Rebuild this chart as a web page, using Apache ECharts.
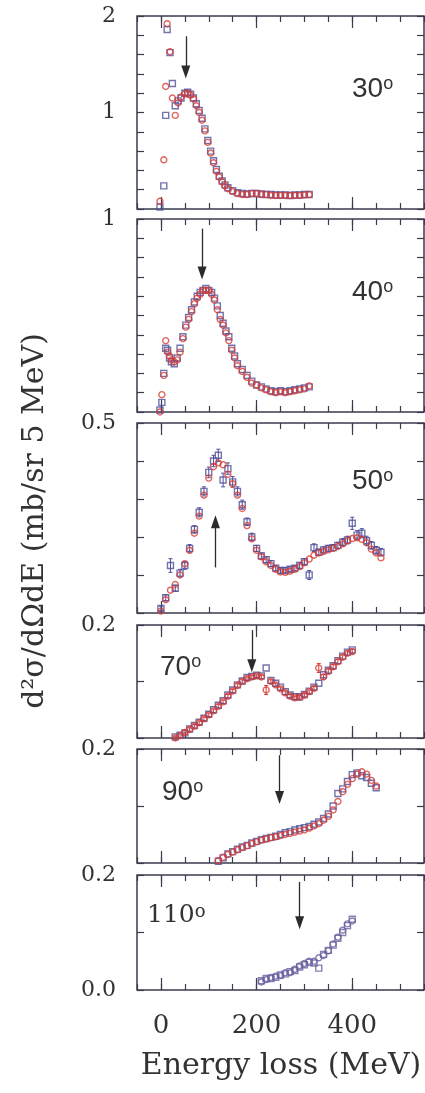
<!doctype html>
<html>
<head>
<meta charset="utf-8">
<title>d2sigma/dOmega dE vs energy loss</title>
<script src="https://cdn.jsdelivr.net/npm/echarts@6.0.0/dist/echarts.min.js"></script>
<style>
html, body { margin: 0; padding: 0; background: #fff; }
#chart { width: 425px; height: 1093px; }
</style>
</head>
<body>
<div id="chart"></div>
<script>
// scattering angles, one panel each
var angles = ['30', '40', '50', '70', '90', '110'];

// tick labels
var xLabelVals = [0, 200, 400];
var yLabelVals = [[1, 2], [1], [0.5], [0.2], [0.2], [0, 0.2]];

// arrows (energy, start, tip)
var arrowE = [52, 86, 114, 190, 248, 290];
var arrowFrom = [1.79, 0.95, 0.12, 0.191, 0.189, 0.188];
var arrowTo = [1.42, 0.72, 0.24, 0.128, 0.115, 0.117];

// 30 deg
var e30 = [-2, 6, 10, 13, 19, 24, 30, 36, 42, 50, 56, 62, 68, 74, 80, 86, 92, 98, 104, 110, 116, 122, 128, 134, 140,
  150, 160, 170, 180, 190, 200, 210, 220, 230, 240, 250, 260, 270, 280, 290, 300, 310];
var red30 = [0.08, 0.51, 1.27, 1.92, 1.63, 1.15, 0.97, 1.10, 1.16, 1.19, 1.20, 1.18, 1.14, 1.07, 1.00, 0.92, 0.81,
  0.69, 0.58, 0.48, 0.39, 0.33, 0.28, 0.24, 0.21,
  0.18, 0.16, 0.15, 0.15, 0.16, 0.16, 0.15, 0.15, 0.14, 0.14, 0.14, 0.14, 0.14, 0.14, 0.14, 0.145, 0.15];
var blue30 = [0.02, 0.24, 0.97, 1.86, 1.62, 1.30, 1.07, 1.12, 1.15, 1.20, 1.21, 1.19, 1.15, 1.09, 1.02, 0.94, 0.83,
  0.71, 0.60, 0.50, 0.41, 0.34, 0.29, 0.25, 0.22,
  0.19, 0.17, 0.16, 0.155, 0.16, 0.16, 0.155, 0.15, 0.15, 0.145, 0.145, 0.145, 0.14, 0.145, 0.145, 0.15, 0.15];

// 40 deg
var e40 = [-2, 2, 6, 10, 14, 18, 22, 28, 34, 40, 46, 52, 58, 64, 70, 76, 82, 88, 94, 100, 106, 112, 118, 124, 130,
  136, 142, 148, 154, 160, 170, 180, 190, 200, 210, 220, 230, 240, 250, 260, 270, 280, 290, 300, 310];
var red40 = [0.00, 0.09, 0.19, 0.37, 0.31, 0.29, 0.27, 0.26, 0.27, 0.31, 0.38, 0.44, 0.48, 0.52, 0.56, 0.59, 0.61,
  0.63, 0.63, 0.63, 0.61, 0.58, 0.53, 0.48, 0.45, 0.41, 0.37, 0.32, 0.28, 0.24,
  0.21, 0.18, 0.15, 0.14, 0.125, 0.115, 0.105, 0.10, 0.105, 0.10, 0.105, 0.11, 0.115, 0.12, 0.135];
var blue40 = [0.01, 0.05, 0.20, 0.33, 0.32, 0.28, 0.26, 0.25, 0.28, 0.33, 0.39, 0.45, 0.49, 0.53, 0.57, 0.60, 0.62,
  0.63, 0.64, 0.63, 0.62, 0.59, 0.55, 0.50, 0.46, 0.42, 0.39, 0.33, 0.29, 0.25,
  0.22, 0.19, 0.16, 0.14, 0.13, 0.12, 0.11, 0.105, 0.11, 0.105, 0.11, 0.115, 0.12, 0.125, 0.13];

// 50 deg
var e50 = [0, 10, 20, 30, 40, 50, 60, 70, 80, 90, 100, 110, 120, 130, 140, 150, 160, 170, 180, 190,
  200, 210, 220, 230, 240, 250, 260, 270, 280, 290, 300, 310, 320, 330, 340, 350, 360, 370, 380, 390,
  400, 410, 420, 430, 440, 450, 460];
var red50 = [0.005, 0.035, 0.06, 0.075, 0.10, 0.13, 0.165, 0.21, 0.255, 0.31,
  0.355, 0.385, 0.395, 0.39, 0.365, 0.34, 0.31, 0.275, 0.23, 0.195,
  0.165, 0.148, 0.135, 0.125, 0.115, 0.108, 0.107, 0.11, 0.115, 0.122,
  0.132, 0.142, 0.152, 0.158, 0.162, 0.166, 0.17, 0.175, 0.182, 0.19,
  0.196, 0.198, 0.194, 0.185, 0.168, 0.158, 0.145];
var blue50 = [0.012, 0.04, 0.125, 0.065, 0.105, 0.125, 0.17, 0.22, 0.265, 0.32,
  0.37, 0.40, 0.415, 0.35, 0.38, 0.345, 0.32, 0.285, 0.24, 0.20,
  0.17, 0.15, 0.14, 0.13, 0.118, 0.112, 0.112, 0.115, 0.118, 0.125,
  0.135, 0.10, 0.172, 0.16, 0.166, 0.17, 0.172, 0.178, 0.186, 0.192,
  0.236, 0.205, 0.21, 0.19, 0.178, 0.165, 0.16];
var err50 = [0.006, 0.008, 0.018, 0.008, 0.01, 0.01, 0.01, 0.01, 0.012, 0.012,
  0.014, 0.015, 0.016, 0.018, 0.015, 0.014, 0.012, 0.012, 0.01, 0.01,
  0.008, 0.008, 0.008, 0.008, 0.007, 0.007, 0.007, 0.007, 0.007, 0.008,
  0.008, 0.012, 0.01, 0.008, 0.008, 0.008, 0.008, 0.008, 0.01, 0.01,
  0.016, 0.012, 0.012, 0.012, 0.01, 0.01, 0.01];

// 70 deg
var e70 = [30, 40, 50, 60, 70, 80, 90, 100, 110, 120, 130, 140, 150, 160, 170, 180, 190, 200, 210, 220,
  230, 240, 250, 260, 270, 280, 290, 300, 310, 320, 330, 340, 350, 360, 370, 380, 390, 400];
var red70 = [0.0, 0.004, 0.01, 0.015, 0.021, 0.027, 0.034, 0.041, 0.048, 0.056,
  0.064, 0.074, 0.083, 0.093, 0.1, 0.105, 0.108, 0.11, 0.108, 0.085,
  0.10, 0.094, 0.087, 0.08, 0.074, 0.071, 0.072, 0.076, 0.082, 0.088,
  0.124, 0.108, 0.118, 0.126, 0.135, 0.143, 0.15, 0.153];
var blue70 = [0.002, 0.005, 0.009, 0.016, 0.022, 0.028, 0.035, 0.042, 0.05, 0.058,
  0.066, 0.076, 0.085, 0.094, 0.101, 0.107, 0.109, 0.111, 0.11, 0.124,
  0.102, 0.097, 0.09, 0.082, 0.076, 0.073, 0.073, 0.077, 0.083, 0.09,
  0.097, 0.112, 0.12, 0.128, 0.137, 0.145, 0.152, 0.156];
var err70 = [0.003, 0.003, 0.003, 0.003, 0.003, 0.003, 0.003, 0.003, 0.003, 0.003,
  0.003, 0.003, 0.003, 0.003, 0.003, 0.003, 0.003, 0.003, 0.003, 0.008,
  0.003, 0.003, 0.003, 0.003, 0.003, 0.003, 0.003, 0.003, 0.003, 0.003,
  0.008, 0.004, 0.004, 0.004, 0.004, 0.004, 0.004, 0.004];

// 90 deg
var e90 = [120, 130, 140, 150, 160, 170, 180, 190, 200, 210, 220, 230, 240, 250, 260, 270, 280, 290, 300, 310,
  320, 330, 340, 350, 360, 370, 380, 390, 400, 410, 420, 430, 440, 450];
var red90 = [0.004, 0.01, 0.015, 0.019, 0.023, 0.027, 0.03, 0.034, 0.037, 0.04,
  0.042, 0.044, 0.046, 0.048, 0.05, 0.052, 0.054, 0.056, 0.058, 0.061,
  0.065, 0.069, 0.075, 0.082, 0.093, 0.108, 0.125, 0.138, 0.148, 0.156,
  0.16, 0.156, 0.145, 0.135];
var blue90 = [0.003, 0.009, 0.016, 0.02, 0.024, 0.028, 0.031, 0.035, 0.038, 0.041,
  0.043, 0.045, 0.047, 0.05, 0.053, 0.055, 0.058, 0.06, 0.062, 0.064,
  0.068, 0.072, 0.078, 0.086, 0.1, 0.122, 0.13, 0.143, 0.155, 0.158,
  0.153, 0.15, 0.14, 0.132];

// 110 deg
var e110 = [210, 220, 230, 240, 250, 260, 270, 280, 290, 300, 310, 320, 330, 340, 350, 360, 370, 380, 390, 400];
var ci110 = [0.014, 0.018, 0.022, 0.024, 0.025, 0.03, 0.03, 0.036, 0.042, 0.046,
  0.05, 0.05, 0.056, 0.06, 0.068, 0.08, 0.092, 0.104, 0.115, 0.12];
var sq110 = [0.016, 0.02, 0.02, 0.022, 0.026, 0.028, 0.032, 0.034, 0.04, 0.044,
  0.048, 0.047, 0.038, 0.062, 0.069, 0.078, 0.09, 0.1, 0.112, 0.123];

var RED = '#d83c34', BLUE = '#4f5099', PURPLE = '#6b5f9f', INK = '#3a3b4c', TXT = '#333';

var panels = [
  {top: 16, height: 193, max: 2, step: 0.2, e: e30, red: red30, blue: blue30, redC: RED, blueC: BLUE},
  {top: 219, height: 193, max: 1, step: 0.1, e: e40, red: red40, blue: blue40, redC: RED, blueC: BLUE},
  {top: 423, height: 190, max: 0.5, step: 0.1, e: e50, red: red50, blue: blue50, redC: RED, blueC: BLUE, errBlue: err50},
  {top: 625, height: 113, max: 0.2, step: 0.1, e: e70, red: red70, blue: blue70, redC: RED, blueC: BLUE, errRed: err70},
  {top: 749, height: 114, max: 0.2, step: 0.1, e: e90, red: red90, blue: blue90, redC: RED, blueC: BLUE},
  {top: 875, height: 115, max: 0.2, step: 0.1, e: e110, red: ci110, blue: sq110, redC: PURPLE, blueC: PURPLE}
];

// where the angle labels sit
var labelPos = [[352, 75], [352, 278], [352, 467], [160, 653], [162, 778], [147, 903]];

function errBar(color) {
  return function (params, api) {
    var x = api.value(0), y = api.value(1), d = api.value(2);
    var a = api.coord([x, y + d]), b = api.coord([x, y - d]);
    var st = {stroke: color, lineWidth: 1};
    return {type: 'group', children: [
      {type: 'line', shape: {x1: a[0], y1: a[1], x2: b[0], y2: b[1]}, style: st},
      {type: 'line', shape: {x1: a[0] - 2, y1: a[1], x2: a[0] + 2, y2: a[1]}, style: st},
      {type: 'line', shape: {x1: b[0] - 2, y1: b[1], x2: b[0] + 2, y2: b[1]}, style: st}
    ]};
  };
}

var grid = [], xAxis = [], yAxis = [], series = [], title = [];

panels.forEach(function (p, i) {
  var last = i === panels.length - 1;
  grid.push({left: 137, top: p.top, width: 287, height: p.height, show: true,
    borderColor: INK, borderWidth: 1.5, backgroundColor: 'transparent'});

  ['bottom', 'top'].forEach(function (pos) {
    // long ticks at labelled energies
    xAxis.push({gridIndex: i, type: 'value', position: pos, min: -50, max: 550,
      axisLine: {show: false, onZero: false}, splitLine: {show: false},
      axisTick: {inside: true, length: 12, customValues: xLabelVals, lineStyle: {color: INK, width: 1.2}},
      axisLabel: {show: last && pos === 'bottom', customValues: xLabelVals, margin: 23,
        fontFamily: 'DejaVu Serif', fontSize: 26, color: TXT}});
    // short ticks every 50 MeV
    xAxis.push({gridIndex: i, type: 'value', position: pos, min: -50, max: 550, interval: 50,
      axisLine: {show: false, onZero: false}, splitLine: {show: false},
      axisTick: {inside: true, length: 6, lineStyle: {color: INK, width: 1.2}},
      axisLabel: {show: false}});
  });

  ['left', 'right'].forEach(function (pos) {
    yAxis.push({gridIndex: i, type: 'value', position: pos, min: 0, max: p.max, interval: p.step,
      axisLine: {show: false, onZero: false}, splitLine: {show: false},
      axisTick: {inside: true, length: 7, lineStyle: {color: INK, width: 1.2}},
      axisLabel: {show: pos === 'left', customValues: yLabelVals[i], margin: 21,
        fontFamily: 'DejaVu Serif', fontSize: 22, color: TXT,
        formatter: function (v) { return i < 2 ? String(v) : v.toFixed(1); }}});
  });

  var xi = 4 * i, yi = 2 * i;

  if (p.errBlue) {
    series.push({type: 'custom', xAxisIndex: xi, yAxisIndex: yi, silent: true, animation: false, z: 1,
      data: p.e.map(function (x, k) { return [x, p.blue[k], p.errBlue[k]]; }),
      renderItem: errBar(p.blueC)});
  }
  if (p.errRed) {
    series.push({type: 'custom', xAxisIndex: xi, yAxisIndex: yi, silent: true, animation: false, z: 1,
      data: p.e.map(function (x, k) { return [x, p.red[k], p.errRed[k]]; }),
      renderItem: errBar(p.redC)});
  }

  series.push({type: 'scatter', xAxisIndex: xi, yAxisIndex: yi, symbol: 'rect', symbolSize: 6,
    silent: true, animation: false, z: 2,
    itemStyle: {color: 'rgba(255,255,255,0)', borderColor: p.blueC, borderWidth: 1.4},
    data: p.e.map(function (x, k) { return [x, p.blue[k]]; })});

  series.push({type: 'scatter', xAxisIndex: xi, yAxisIndex: yi, symbol: 'circle', symbolSize: 6,
    silent: true, animation: false, z: 3,
    itemStyle: {color: 'rgba(255,255,255,0)', borderColor: p.redC, borderWidth: 1.4},
    data: p.e.map(function (x, k) { return [x, p.red[k]]; }),
    markLine: {silent: true, animation: false, symbol: ['none', 'triangle'], symbolSize: [9, 13],
      label: {show: false}, lineStyle: {color: '#2b2b2b', width: 1.3, type: 'solid'},
      emphasis: {disabled: true},
      data: [[{coord: [arrowE[i], arrowFrom[i]]}, {coord: [arrowE[i], arrowTo[i]]}]]}});

  var serif = i === panels.length - 1;
  var fam = serif ? 'DejaVu Serif' : 'Liberation Sans';
  title.push({text: '{n|' + angles[i] + '}{s|o}', left: labelPos[i][0], top: labelPos[i][1], padding: 0,
    textStyle: {fontWeight: 'normal', rich: {
      n: {fontFamily: fam, fontSize: serif ? 25 : 28, fontWeight: 'normal', color: TXT},
      s: {fontFamily: fam, fontSize: 18, fontWeight: 'normal', color: TXT, verticalAlign: 'top'}
    }}});
});

var option = {
  backgroundColor: '#fff',
  title: title,
  grid: grid,
  xAxis: xAxis,
  yAxis: yAxis,
  series: series,
  graphic: [
    {type: 'text', x: 35, y: 521, rotation: Math.PI / 2,
      style: {text: 'd²σ/dΩdE (mb/sr 5 MeV)', font: '30px "DejaVu Serif"', fill: TXT,
        textAlign: 'center', textVerticalAlign: 'middle', align: 'center', verticalAlign: 'middle'}},
    {type: 'text', x: 281, y: 1066,
      style: {text: 'Energy loss (MeV)', font: '30px "DejaVu Serif"', fill: TXT,
        textAlign: 'center', textVerticalAlign: 'middle', align: 'center', verticalAlign: 'middle'}}
  ]
};

var myChart = echarts.init(document.getElementById('chart'));
myChart.setOption(option);
</script>
</body>
</html>
